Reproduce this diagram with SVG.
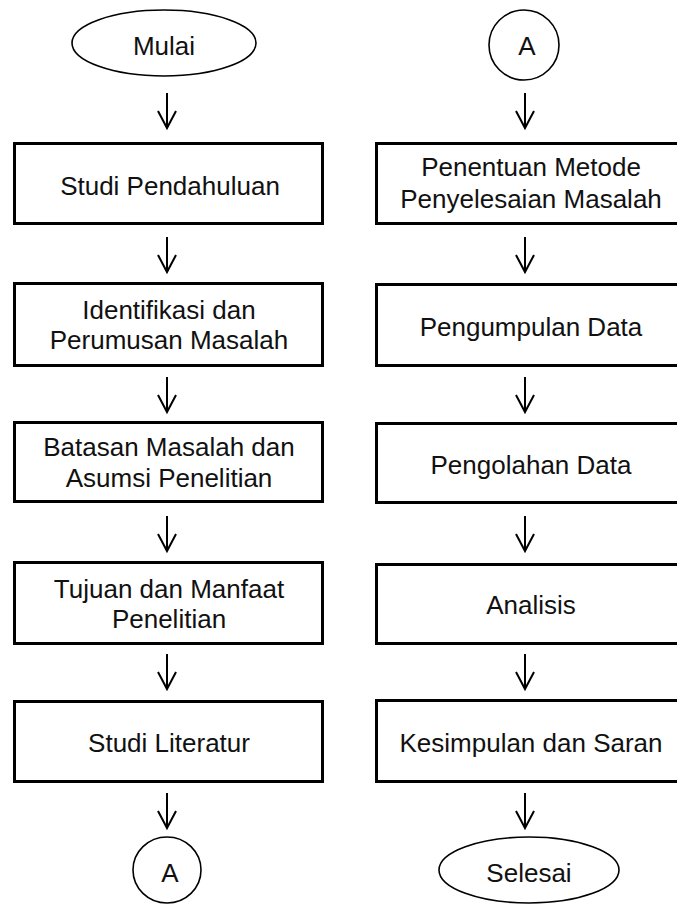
<svg xmlns="http://www.w3.org/2000/svg" width="677" height="904" viewBox="0 0 677 904">
<style>
.box{fill:#fff;stroke:#000;stroke-width:3}
.term{fill:#fff;stroke:#000;stroke-width:1.6}
.t{font-family:"Liberation Sans",Arial,sans-serif;font-size:26px;fill:#111;text-anchor:middle}
.ar{fill:none;stroke:#000;stroke-width:2}
</style>
<defs>
<g id="arr"><path class="ar" d="M0,0 V35 M-9,18 L0,35 L9,18"/></g>
</defs>
<rect width="677" height="904" fill="#fff"/>
<g id="connectors">
<use href="#arr" x="167" y="93"/>
<use href="#arr" x="167" y="237"/>
<use href="#arr" x="167" y="377"/>
<use href="#arr" x="167" y="516"/>
<use href="#arr" x="167" y="654"/>
<use href="#arr" x="167" y="793"/>
<use href="#arr" x="525" y="93"/>
<use href="#arr" x="525" y="237"/>
<use href="#arr" x="525" y="377"/>
<use href="#arr" x="525" y="516"/>
<use href="#arr" x="525" y="654"/>
<use href="#arr" x="525" y="793"/>
</g>
<g id="mulai"><ellipse class="term" cx="164" cy="43" rx="92" ry="33"/><text class="t" x="164" y="55">Mulai</text></g>
<g id="studi-pendahuluan"><rect class="box" x="14.5" y="143.5" width="308" height="80"/><text class="t" x="170" y="195">Studi Pendahuluan</text></g>
<g id="identifikasi"><rect class="box" x="14.5" y="283.5" width="308" height="82"/><text class="t" x="169" y="319">Identifikasi dan</text><text class="t" x="169" y="349">Perumusan Masalah</text></g>
<g id="batasan"><rect class="box" x="14.5" y="422.5" width="308" height="79"/><text class="t" x="169" y="456">Batasan Masalah dan</text><text class="t" x="169" y="487">Asumsi Penelitian</text></g>
<g id="tujuan"><rect class="box" x="14.5" y="562.5" width="308" height="81"/><text class="t" x="169" y="598">Tujuan dan Manfaat</text><text class="t" x="169" y="628">Penelitian</text></g>
<g id="studi-literatur"><rect class="box" x="14.5" y="701.5" width="308" height="80"/><text class="t" x="169" y="752">Studi Literatur</text></g>
<g id="a-out"><ellipse class="term" cx="167" cy="870" rx="34" ry="33"/><text class="t" x="170" y="882">A</text></g>
<g id="a-in"><circle class="term" cx="524" cy="45" r="35"/><text class="t" x="527" y="55">A</text></g>
<g id="penentuan"><rect class="box" x="376.5" y="143.5" width="320" height="80"/><text class="t" x="531" y="176">Penentuan Metode</text><text class="t" x="531" y="208">Penyelesaian Masalah</text></g>
<g id="pengumpulan"><rect class="box" x="376.5" y="284.5" width="320" height="81"/><text class="t" x="531" y="336">Pengumpulan Data</text></g>
<g id="pengolahan"><rect class="box" x="376.5" y="423.5" width="320" height="79"/><text class="t" x="531" y="474">Pengolahan Data</text></g>
<g id="analisis"><rect class="box" x="376.5" y="564.5" width="320" height="79"/><text class="t" x="531" y="614">Analisis</text></g>
<g id="kesimpulan"><rect class="box" x="376.5" y="700.5" width="320" height="81"/><text class="t" x="531" y="752">Kesimpulan dan Saran</text></g>
<g id="selesai"><ellipse class="term" cx="529" cy="870" rx="90" ry="33"/><text class="t" x="529" y="882">Selesai</text></g>
</svg>
